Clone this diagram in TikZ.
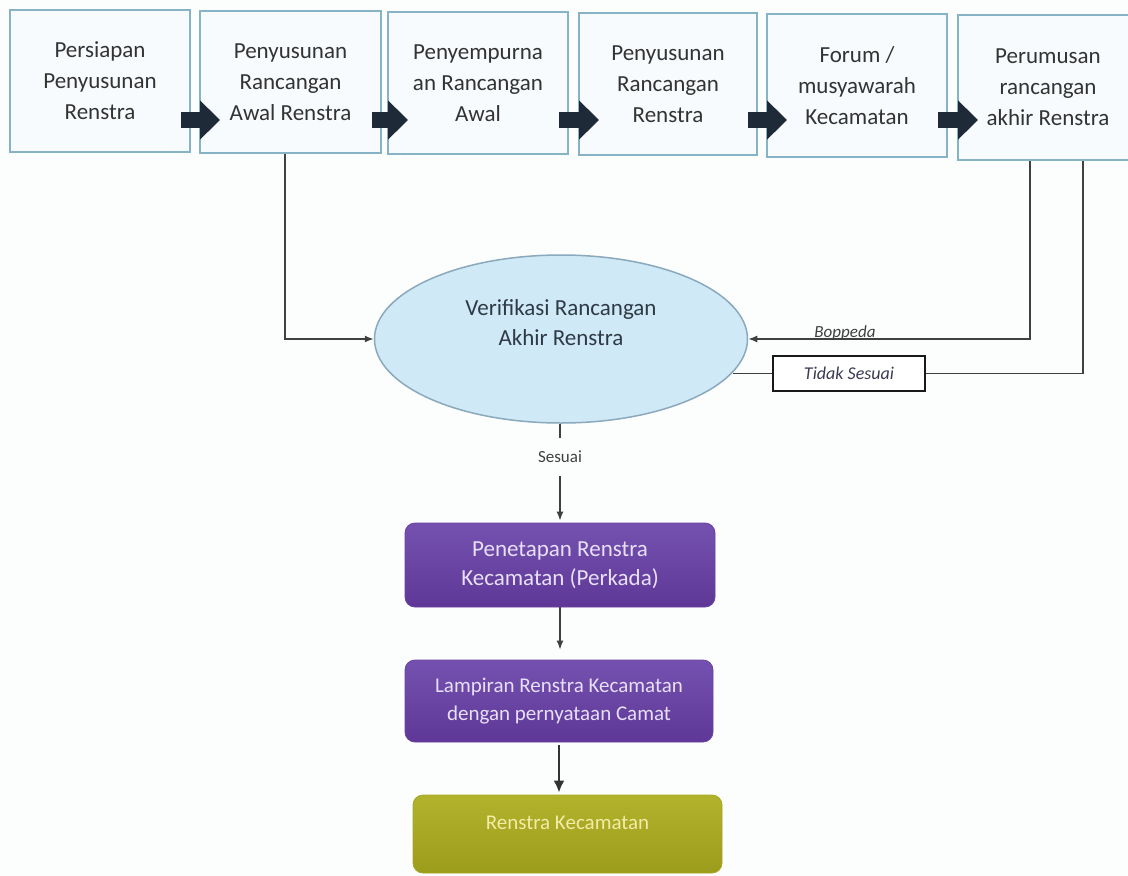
\documentclass[tikz,border=0pt]{standalone}
\usepackage{fontspec}
\setmainfont{Carlito}
\usetikzlibrary{arrows.meta,shapes.geometric,calc}
\definecolor{boxline}{HTML}{86B3C6}
\definecolor{boxfill}{HTML}{F8FBFD}
\definecolor{boxtext}{HTML}{333333}
\definecolor{navy}{HTML}{1F2A38}
\definecolor{ellfill}{HTML}{CFE9F6}
\definecolor{ellline}{HTML}{8AA9BD}
\definecolor{elltext}{HTML}{2F3B44}
\definecolor{purp}{HTML}{6943A3}
\definecolor{purptop}{HTML}{7451B0}
\definecolor{purpbot}{HTML}{5F3897}
\definecolor{purptext}{HTML}{E8E0F8}
\definecolor{olive}{HTML}{A7A823}
\definecolor{olivetop}{HTML}{B2B32C}
\definecolor{olivebot}{HTML}{9C9C1C}
\definecolor{olivetext}{HTML}{F3ECA6}
\definecolor{conn}{HTML}{404040}
\definecolor{bg}{HTML}{FCFDFD}
\begin{document}
\begin{tikzpicture}[x=1pt,y=-1pt,
  stepbox/.style={draw=boxline, line width=2pt, fill=boxfill, text=boxtext,
    minimum width=180pt, minimum height=142pt, inner sep=2pt, align=center,
    font=\fontsize{23}{31}\selectfont},
  blockarrow/.style={draw=navy, line width=16pt, -{Triangle[length=20pt,width=38pt]}},
  thin/.style={draw=conn, line width=1.4pt},
  thinarrow/.style={thin, -{Latex[length=9pt,width=7pt]}},
  purpbox/.style={rounded corners=10pt, top color=purptop, bottom color=purpbot,
    draw=purp, line width=0.8pt, text=purptext, minimum width=310pt, minimum height=84pt,
    inner sep=2pt, align=center},
]
\useasboundingbox (0,0) rectangle (1128,876);
\fill[bg] (0,0) rectangle (1128,876);

% top row
\node[stepbox] (b1) at (100,81) {Persiapan\\Penyusunan\\Renstra};
\node[stepbox, minimum width=181pt] (b2) at (290.5,82) {Penyusunan\\Rancangan\\Awal Renstra};
\node[stepbox] (b3) at (478,83) {Penyempurna\\an Rancangan\\Awal};
\node[stepbox, minimum width=178pt] (b4) at (668,84) {Penyusunan\\Rancangan\\Renstra};
\node[stepbox, minimum height=143pt] (b5) at (857,85.5) {Forum /\\musyawarah\\Kecamatan};
\node[stepbox, minimum height=145pt] (b6) at (1048,87.5) {Perumusan\\rancangan\\akhir Renstra};

\coordinate (ay) at (0,120);
\foreach \a/\b in {b1/b2,b2/b3,b3/b4,b4/b5,b5/b6}{
  \draw[blockarrow] ($(\a.east|-ay)+(-10,0)$) -- ($(\b.west|-ay)+(21,0)$);
}

% ellipse
\node[ellipse, draw=ellline, line width=1.5pt, fill=ellfill, text=elltext,
  minimum width=373pt, minimum height=168pt, inner sep=0pt, align=center,
  text depth=33pt, font=\fontsize{23}{30}\selectfont] (ell) at (561,339)
  {Verifikasi Rancangan\\Akhir Renstra};

% left connector
\draw[thinarrow] ($(b2.south)+(-5.5,0)$) |- (ell.west);

% right connectors
\coordinate (r1) at (1030,0);
\coordinate (r2) at (1083,0);
\draw[thinarrow] (b6.south -| r1) |- (ell.east);
\node[font=\itshape\fontsize{17}{20}\selectfont, text=conn] (bop) at (845,333) {Boppeda};

\node[draw=black!90, line width=2.5pt, fill=white, minimum width=152pt, minimum height=35pt,
  inner sep=0pt, font=\itshape\fontsize{18}{20}\selectfont, text=conn!90!blue] (ts) at (849,373.5) {Tidak Sesuai};
\draw[thin] (b6.south -| r2) |- (ts.east);
\draw[thin] (ts.west) -- (ts.west -| ell.-11);

% sesuai
\node[font=\fontsize{17}{20}\selectfont, text=conn, minimum height=37pt, inner sep=0pt] (se) at (560,457) {Sesuai};
\draw[thin] (ell.south -| se.north) -- (se.north);

\node[purpbox, font=\fontsize{23}{29}\selectfont] (p1) at (560,565) {Penetapan Renstra\\Kecamatan (Perkada)};
\node[purpbox, font=\fontsize{21}{28}\selectfont, minimum width=308pt, minimum height=82pt] (p2) at (559,701)
  {Lampiran Renstra Kecamatan\\dengan pernyataan Camat};
\node[rounded corners=10pt, top color=olivetop, bottom color=olivebot, draw=olive, line width=0.8pt,
  text=olivetext, minimum width=309pt, minimum height=78pt, inner sep=2pt, text depth=22pt,
  font=\fontsize{21}{25}\selectfont] (ol) at (567.5,834) {Renstra Kecamatan};

\draw[thinarrow] (se.south) -- ($(p1.north)+(0,-2)$);
\draw[thinarrow, shorten >=10pt] (p1.south) -- (p1.south |- p2.north);
\draw[draw=conn!80!black, line width=2.5pt, -{Latex[length=12pt,width=11pt]}] ($(p2.south)+(0,3)$) -- ($(p2.south |- ol.north)+(0,-2)$);
\end{tikzpicture}
\end{document}
